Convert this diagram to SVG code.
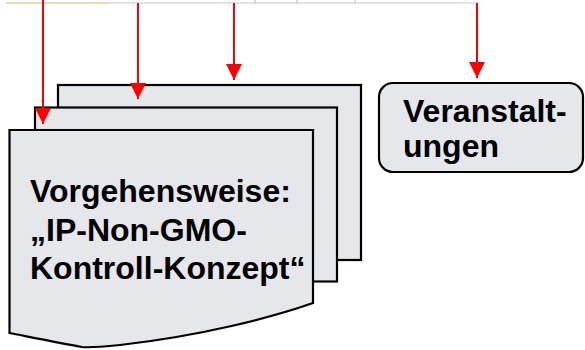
<svg xmlns="http://www.w3.org/2000/svg" width="585" height="350" viewBox="0 0 585 350">
<style>
.doc{fill:#e6e7eb;stroke:#000;stroke-width:2.2;stroke-linejoin:miter}
.box{fill:#e6e7eb;stroke:#000;stroke-width:2.2}
.t{font-family:"Liberation Sans",Arial,sans-serif;font-weight:bold;font-size:32px;fill:#000}
.con{stroke:#ff0000;stroke-width:2;fill:none}
.strip{stroke:#c8c6cc;stroke-width:1.2;fill:none}
</style>
<defs>
<marker id="ah" viewBox="0 0 16 16" markerWidth="16" markerHeight="16" refX="16" refY="8" orient="auto" markerUnits="userSpaceOnUse">
<path d="M0,0 L16,8 L0,16 Z" fill="#ff0000"/>
</marker>
</defs>
<g id="strip">
<path class="strip" d="M6,3 H478"/>
<path d="M6,3 H110" stroke="#e8dca8" stroke-width="1.5"/>
<path class="strip" d="M255,0 V4 M297,0 V4 M355,0 V4"/>
</g>
<g id="doc-back"><rect class="doc" x="58" y="85" width="303" height="175"/></g>
<g id="doc-middle"><rect class="doc" x="35" y="107.5" width="302" height="174"/></g>
<g id="doc-front">
<path class="doc" d="M9.5,130 H313 V303 C270,318 200,336 120,345 C100,347 90,348 82,347 C60,343 30,337 9.5,333 Z"/>
<text class="t" x="30" y="202">Vorgehensweise:</text>
<text class="t" x="30" y="241">„IP-Non-GMO-</text>
<text class="t" x="30" y="279">Kontroll-Konzept“</text>
</g>
<g id="veranstaltungen">
<rect class="box" x="379" y="83" width="204" height="89" rx="14" ry="14"/>
<text class="t" x="403" y="122">Veranstalt-</text>
<text class="t" x="403" y="157">ungen</text>
</g>
<g id="connectors">
<path class="con" d="M43,0 V124" marker-end="url(#ah)"/>
<path class="con" d="M138,3 V99" marker-end="url(#ah)"/>
<path class="con" d="M234,3 V80" marker-end="url(#ah)"/>
<path class="con" d="M477,3 V78" marker-end="url(#ah)"/>
</g>
</svg>
